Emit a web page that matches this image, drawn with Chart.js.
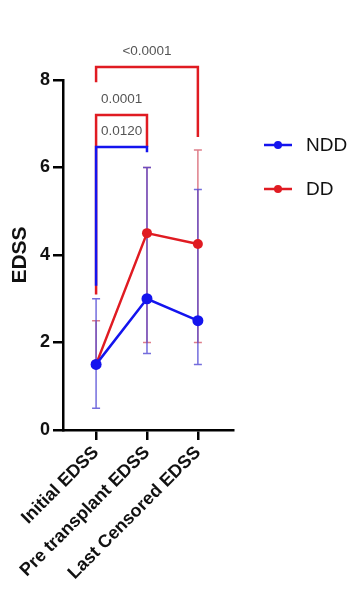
<!DOCTYPE html>
<html>
<head>
<meta charset="utf-8">
<script src="https://cdn.jsdelivr.net/npm/chart.js@4"></script>
<style>
html,body{margin:0;padding:0;background:#fff}
#wrap{width:351px;height:593px}
</style>
</head>
<body>
<div id="wrap"><canvas id="myChart"></canvas></div>
<script>
const categories = ["Initial EDSS", "Pre transplant EDSS", "Last Censored EDSS"];
const nddMean = [1.5, 3.0, 2.5];
const nddLow = [0.5, 1.75, 1.5];
const nddHigh = [3.0, 6.0, 5.5];
const ddMean = [1.5, 4.5, 4.25];
const ddLow = [1.5, 2.0, 2.0];
const ddHigh = [2.5, 6.0, 6.4];
const seriesNames = ["NDD", "DD"];
const seriesColors = ["#1414ee", "#e01b22"];
const errColors = ["rgba(70,60,210,0.75)", "rgba(200,40,60,0.6)"];

// p value brackets
const pTexts = ["<0.0001", "0.0001", "0.0120"];
const pFrom = [0, 0, 0];
const pTo = [2, 1, 1];
const pTop = [8.3, 7.2, 6.47];
const pLeftEnd = [7.95, 3.1, 3.3];
const pRightEnd = [6.7, 6.47, 6.35];
const pColors = ["#e01b22", "#e01b22", "#1414ee"];

const fontFam = "'Liberation Sans', Arial, sans-serif";

function pts(arr){
    return arr.map((v, i) => ({x: i, y: v}));
}

const errorBars = {
    id: "errorBars",
    beforeDatasetsDraw(chart){
        const ctx = chart.ctx;
        const xs = chart.scales.x, ys = chart.scales.y;
        const lows = [nddLow, ddLow], highs = [nddHigh, ddHigh];
        ctx.save();
        ctx.lineWidth = 1.5;
        for (let s = 1; s >= 0; s--){
            ctx.strokeStyle = errColors[s];
            for (let i = 0; i < categories.length; i++){
                const x = xs.getPixelForValue(i);
                const y1 = ys.getPixelForValue(lows[s][i]);
                const y2 = ys.getPixelForValue(highs[s][i]);
                ctx.beginPath();
                ctx.moveTo(x, y1); ctx.lineTo(x, y2);
                ctx.moveTo(x - 4, y1); ctx.lineTo(x + 4, y1);
                ctx.moveTo(x - 4, y2); ctx.lineTo(x + 4, y2);
                ctx.stroke();
            }
        }
        ctx.restore();
    }
};

const brackets = {
    id: "brackets",
    afterDatasetsDraw(chart){
        const ctx = chart.ctx;
        const xs = chart.scales.x, ys = chart.scales.y;
        ctx.save();
        ctx.lineWidth = 2.5;
        ctx.font = "13.5px " + fontFam;
        ctx.textAlign = "center";
        ctx.textBaseline = "middle";
        for (let i = 0; i < pTexts.length; i++){
            const xa = xs.getPixelForValue(pFrom[i]);
            const xb = xs.getPixelForValue(pTo[i]);
            const yt = ys.getPixelForValue(pTop[i]);
            ctx.strokeStyle = pColors[i];
            ctx.beginPath();
            ctx.moveTo(xa, ys.getPixelForValue(pLeftEnd[i]));
            ctx.lineTo(xa, yt);
            ctx.lineTo(xb, yt);
            ctx.lineTo(xb, ys.getPixelForValue(pRightEnd[i]));
            ctx.stroke();
            ctx.fillStyle = "#555";
            ctx.fillText(pTexts[i], (xa + xb) / 2, yt - 16);
        }
        ctx.restore();
    }
};

const sideLegend = {
    id: "sideLegend",
    afterDraw(chart){
        const ctx = chart.ctx;
        ctx.save();
        chart.data.datasets.forEach((d, i) => {
            const y = 145 + i * 44;
            ctx.strokeStyle = d.borderColor;
            ctx.fillStyle = d.borderColor;
            ctx.lineWidth = 2.5;
            ctx.beginPath();
            ctx.moveTo(264, y); ctx.lineTo(292, y);
            ctx.stroke();
            ctx.beginPath();
            ctx.arc(278, y, 4, 0, Math.PI * 2);
            ctx.fill();
            ctx.fillStyle = "#111";
            ctx.font = "19px " + fontFam;
            ctx.textBaseline = "middle";
            ctx.fillText(d.label, 306, y + 1);
        });
        ctx.restore();
    }
};

new Chart("myChart", {
    type: "line",
    data: {
        datasets: [
            {
                label: seriesNames[0],
                data: pts(nddMean),
                borderColor: seriesColors[0],
                backgroundColor: seriesColors[0],
                borderWidth: 2.5,
                pointRadius: 5.5,
                pointBorderWidth: 0
            },
            {
                label: seriesNames[1],
                data: pts(ddMean),
                borderColor: seriesColors[1],
                backgroundColor: seriesColors[1],
                borderWidth: 2.5,
                pointRadius: 5,
                pointBorderWidth: 0
            }
        ]
    },
    options: {
        responsive: true,
        maintainAspectRatio: false,
        animation: false,
        layout: {padding: {top: 80, right: 118, left: 0, bottom: 0}},
        plugins: {legend: {display: false}, tooltip: {enabled: false}},
        scales: {
            x: {
                type: "linear",
                min: -0.65,
                max: 2.69,
                afterBuildTicks: s => { s.ticks = categories.map((c, i) => ({value: i})); },
                afterFit: s => { s.height = 163; },
                ticks: {
                    callback: v => categories[v],
                    minRotation: 45,
                    maxRotation: 45,
                    autoSkip: false,
                    color: "#111",
                    padding: 2,
                    font: {family: fontFam, size: 18, weight: "bold"}
                },
                grid: {drawOnChartArea: false, tickLength: 10, color: "#000", lineWidth: 2.5},
                border: {color: "#000", width: 2.5}
            },
            y: {
                min: 0,
                max: 8,
                afterFit: s => { s.width = 63; },
                ticks: {
                    stepSize: 2,
                    color: "#111",
                    padding: 3,
                    font: {family: fontFam, size: 18, weight: "bold"}
                },
                grid: {drawOnChartArea: false, tickLength: 10, color: "#000", lineWidth: 2.5},
                border: {color: "#000", width: 2.5},
                title: {
                    display: true,
                    text: "EDSS",
                    color: "#111",
                    padding: {top: 8, bottom: 0},
                    font: {family: fontFam, size: 21, weight: "bold"}
                }
            }
        }
    },
    plugins: [errorBars, brackets, sideLegend]
});
</script>
</body>
</html>
